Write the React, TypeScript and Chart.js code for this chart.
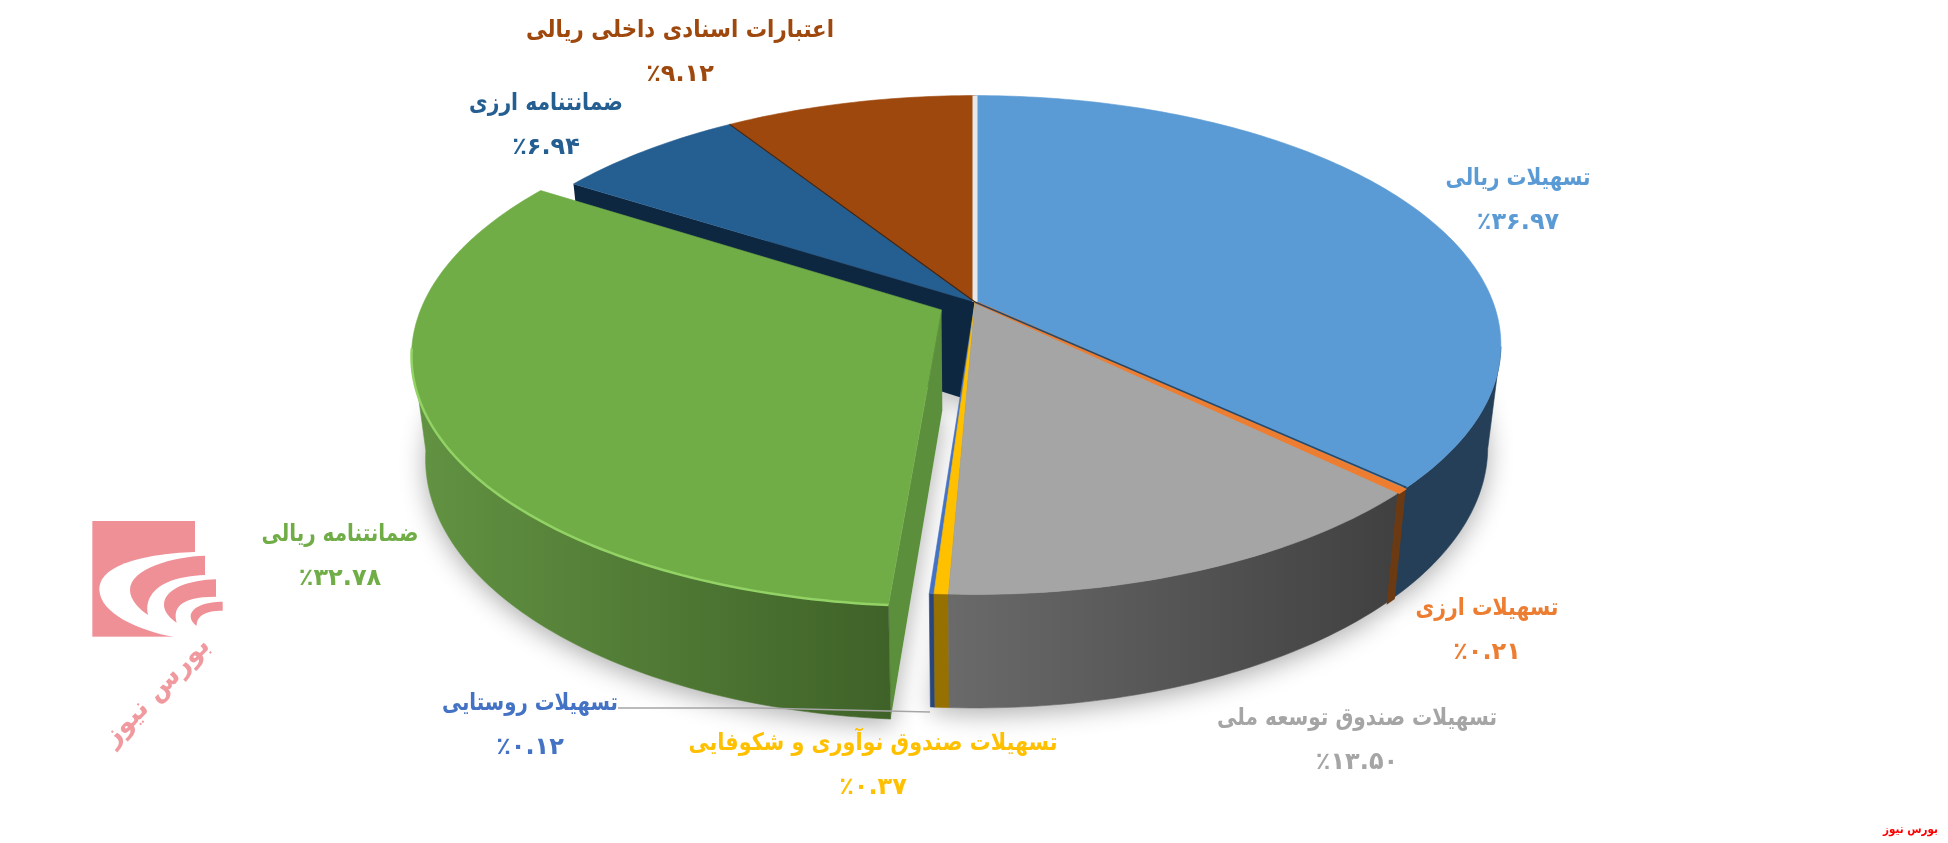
import { useEffect, useRef } from "react";
import { Chart, ArcElement, PieController } from "chart.js";

Chart.register(ArcElement, PieController);

const categories = [
  "تسهیلات ریالی",
  "تسهیلات ارزی",
  "تسهیلات صندوق توسعه ملی",
  "تسهیلات صندوق نوآوری و شکوفایی",
  "تسهیلات روستایی",
  "ضمانتنامه ریالی",
  "ضمانتنامه ارزی",
  "اعتبارات اسنادی داخلی ریالی",
];
const values = [36.97, 0.21, 13.5, 0.37, 0.12, 32.78, 6.94, 9.12];
const explode = [0, 0, 0, 0, 0, 21, 0, 0];

const topColors = ["#5b9bd5", "#ed7d31", "#a5a5a5", "#ffc000", "#4472c4", "#70ad47", "#255e91", "#9e480e"];
const wallColors = [
  ["#243f57", "#243f57"],
  ["#6b3a12", "#6b3a12"],
  ["#6a6a6a", "#404040"],
  ["#967000", "#967000"],
  ["#28467c", "#28467c"],
  ["#629342", "#3f6228"],
  ["#0e2740", "#0e2740"],
  ["#5e2b08", "#5e2b08"],
];
const edgeColors = ["#243f57", "#6b3a12", "#555555", "#967000", "#28467c", "#5c8f3c", "#0e2740", "#5e2b08"];

// where the two text lines of each label are centred, and how wide the name runs
const labelX = [1518, 1487, 1357, 873, 530, 340, 546, 680];
const labelY = [179, 609, 719, 744, 704, 535, 104, 31];
const labelWidth = [145, 143, 280, 369, 176, 157, 154, 308];
const LINE_GAP = 44;
const LABEL_FONT = 'bold 24px "DejaVu Sans"';

// perspective of the pie
const RX = 518;
const RY = 242;
const DEPTH = 100;
const EYE = 5.8;
const SHRINK = 0.025;

const toPersian = (n: number) =>
  n.toFixed(2).replace(/\d/g, (d) => "۰۱۲۳۴۵۶۷۸۹"[Number(d)]);

function drawLogo(ctx: CanvasRenderingContext2D) {
  ctx.save();
  ctx.translate(60, 490);
  ctx.scale(1 / 3, 1 / 3);
  ctx.fillStyle = "#ef9097";
  ctx.fillRect(97, 93, 308, 347);
  ctx.fillStyle = "#ffffff";
  ctx.beginPath();
  ctx.moveTo(420, 185);
  ctx.bezierCurveTo(250, 190, 115, 225, 118, 300);
  ctx.bezierCurveTo(122, 370, 230, 420, 345, 442);
  ctx.lineTo(420, 442);
  ctx.closePath();
  ctx.fill();
  const bands = [
    [435, 197, 340, 200, 210, 235, 210, 300, 210, 330, 240, 360, 265, 375, 255, 340, 265, 262, 435, 255],
    [468, 268, 390, 270, 312, 295, 312, 345, 312, 365, 330, 385, 350, 398, 340, 360, 350, 320, 468, 320],
    [488, 335, 440, 335, 392, 350, 392, 380, 392, 390, 400, 400, 410, 408, 410, 380, 430, 362, 488, 362],
  ];
  ctx.fillStyle = "#ef9097";
  bands.forEach((b) => {
    ctx.beginPath();
    ctx.moveTo(b[0], b[1]);
    ctx.bezierCurveTo(b[2], b[3], b[4], b[5], b[6], b[7]);
    ctx.bezierCurveTo(b[8], b[9], b[10], b[11], b[12], b[13]);
    ctx.bezierCurveTo(b[14], b[15], b[16], b[17], b[18], b[19]);
    ctx.closePath();
    ctx.fill();
  });
  ctx.restore();

  ctx.save();
  ctx.translate(157, 692);
  ctx.rotate(-0.8);
  ctx.fillStyle = "#f09aa0";
  ctx.font = 'bold 27px "DejaVu Sans"';
  ctx.direction = "rtl";
  ctx.textAlign = "center";
  ctx.textBaseline = "middle";
  ctx.fillText("بورس نیوز", 0, 0, 140);
  ctx.restore();
}

const pie3d = {
  id: "pie3d",
  beforeDatasetsDraw(chart: any) {
    const { ctx } = chart;
    const arcs = chart.getDatasetMeta(0).data;
    const cx = arcs[0].x;
    const cy = arcs[0].y;

    const project = (u: number, v: number, h: number) => {
      const s = EYE / (EYE - v);
      const k = 1 - SHRINK * h;
      return [cx + RX * u * s * k, cy + RY * v * s * k + DEPTH * s * h];
    };

    const slices = arcs.map((arc: any, i: number) => {
      const mid = (arc.startAngle + arc.endAngle) / 2;
      const e = (arc.options.offset || 0) / arc.outerRadius;
      const du = e * Math.cos(mid);
      const dv = e * Math.sin(mid);
      const steps = Math.max(2, Math.ceil(((arc.endAngle - arc.startAngle) * 180) / Math.PI));
      const angles: number[] = [];
      for (let j = 0; j <= steps; j++) {
        angles.push(arc.startAngle + ((arc.endAngle - arc.startAngle) * j) / steps);
      }
      const rim = (a: number, h: number) => project(Math.cos(a) + du, Math.sin(a) + dv, h);
      const apex = (h: number) => project(du, dv, h);
      const front = angles.filter((a) => Math.sin(a) + dv >= 1 / EYE);
      return { i, arc, angles, rim, apex, front };
    });

    const path = (pts: number[][]) => {
      ctx.beginPath();
      pts.forEach((p, j) => (j ? ctx.lineTo(p[0], p[1]) : ctx.moveTo(p[0], p[1])));
      ctx.closePath();
    };

    // soft shadow under the whole pie
    ctx.save();
    ctx.shadowColor = "rgba(0,0,0,0.32)";
    ctx.shadowBlur = 26;
    ctx.shadowOffsetY = 6;
    ctx.fillStyle = "#ebebeb";
    slices.forEach((s: any) => {
      path([s.apex(1), ...s.angles.map((a: number) => s.rim(a, 1))]);
      ctx.fill();
    });
    ctx.restore();

    // back to front, each radial wall falls on the slice that comes after it
    const order = [7, 6, 0, 4, 3, 2, 1, 5];
    order.forEach((idx) => {
      const s = slices[idx];
      const { arc } = s;

      const edgeWall = (a: number) => {
        path([s.apex(0), s.rim(a, 0), s.rim(a, 1), s.apex(1)]);
        ctx.fillStyle = edgeColors[idx];
        ctx.fill();
      };
      if (Math.cos(arc.startAngle) < 0) edgeWall(arc.startAngle);
      if (Math.cos(arc.endAngle) > 0 && idx !== 1) edgeWall(arc.endAngle);

      if (s.front.length > 1) {
        const top = s.front.map((a: number) => s.rim(a, 0));
        const bottom = s.front.map((a: number) => s.rim(a, 1)).reverse();
        const xs = top.map((p: number[]) => p[0]);
        // the gradient runs left to right across the wall
        const grad = ctx.createLinearGradient(Math.min(...xs), 0, Math.max(...xs), 0);
        grad.addColorStop(0, wallColors[idx][0]);
        grad.addColorStop(1, wallColors[idx][1]);
        path([...top, ...bottom]);
        ctx.fillStyle = grad;
        ctx.fill();
        ctx.strokeStyle = grad;
        ctx.lineWidth = idx === 1 ? 3.5 : 0.6;
        ctx.stroke();
      }

      path([s.apex(0), ...s.angles.map((a: number) => s.rim(a, 0))]);
      ctx.fillStyle = topColors[idx];
      ctx.fill();
      ctx.strokeStyle = topColors[idx];
      ctx.lineWidth = idx === 1 ? 3 : 0.6;
      ctx.stroke();

      if (idx === 5 && s.front.length > 1) {
        // light bevel along the near edge of the green slice
        ctx.beginPath();
        s.front.forEach((a: number, j: number) => {
          const p = s.rim(a, 0);
          if (j) ctx.lineTo(p[0], p[1]);
          else ctx.moveTo(p[0], p[1]);
        });
        ctx.strokeStyle = "#93d365";
        ctx.lineWidth = 2.5;
        ctx.stroke();
      }
    });

    const seam = (s: any, a: number, color: string, w: number) => {
      const p0 = s.apex(0);
      const p1 = s.rim(a, 0);
      ctx.beginPath();
      ctx.moveTo(p0[0], p0[1]);
      ctx.lineTo(p1[0], p1[1]);
      ctx.strokeStyle = color;
      ctx.lineWidth = w;
      ctx.stroke();
    };
    seam(slices[0], slices[0].arc.startAngle, "#e8e8e8", 5);
    seam(slices[7], slices[7].arc.startAngle, "#4a2206", 1.2);
    seam(slices[0], slices[0].arc.endAngle - 0.008, "#264a6a", 1.5);

    return false;
  },
  afterDraw(chart: any) {
    const { ctx } = chart;

    // leader line of the rural slice
    ctx.beginPath();
    ctx.moveTo(618, 708);
    ctx.lineTo(760, 708);
    ctx.lineTo(930, 712);
    ctx.strokeStyle = "#a5a5a5";
    ctx.lineWidth = 1.5;
    ctx.stroke();

    ctx.save();
    ctx.direction = "rtl";
    ctx.textAlign = "center";
    ctx.textBaseline = "middle";
    ctx.font = LABEL_FONT;
    categories.forEach((name, i) => {
      ctx.fillStyle = topColors[i];
      ctx.fillText(name, labelX[i], labelY[i], labelWidth[i]);
      ctx.fillText("٪" + toPersian(values[i]), labelX[i], labelY[i] + LINE_GAP);
    });
    ctx.fillStyle = "#ff0000";
    ctx.font = 'bold 12px "DejaVu Sans"';
    ctx.textAlign = "right";
    ctx.fillText("بورس نیوز", 1938, 830, 55);
    ctx.restore();

    drawLogo(ctx);
  },
};

export default function App() {
  const canvasRef = useRef<HTMLCanvasElement>(null);

  useEffect(() => {
    if (!canvasRef.current) return;
    const chart = new Chart(canvasRef.current, {
      type: "pie",
      data: {
        labels: categories,
        datasets: [{ data: values, backgroundColor: topColors, offset: explode, borderWidth: 0 }],
      },
      options: {
        responsive: false,
        animation: false,
        devicePixelRatio: 1,
        layout: { padding: { left: 2, bottom: 239 } },
        plugins: { legend: { display: false }, tooltip: { enabled: false } },
      },
      plugins: [pie3d],
    } as any);
    return () => chart.destroy();
  }, []);

  return (
    <div style={{ position: "absolute", left: 0, top: 0, width: 1948, height: 843, background: "#ffffff" }}>
      <canvas ref={canvasRef} width={1948} height={843} style={{ display: "block" }} />
    </div>
  );
}
